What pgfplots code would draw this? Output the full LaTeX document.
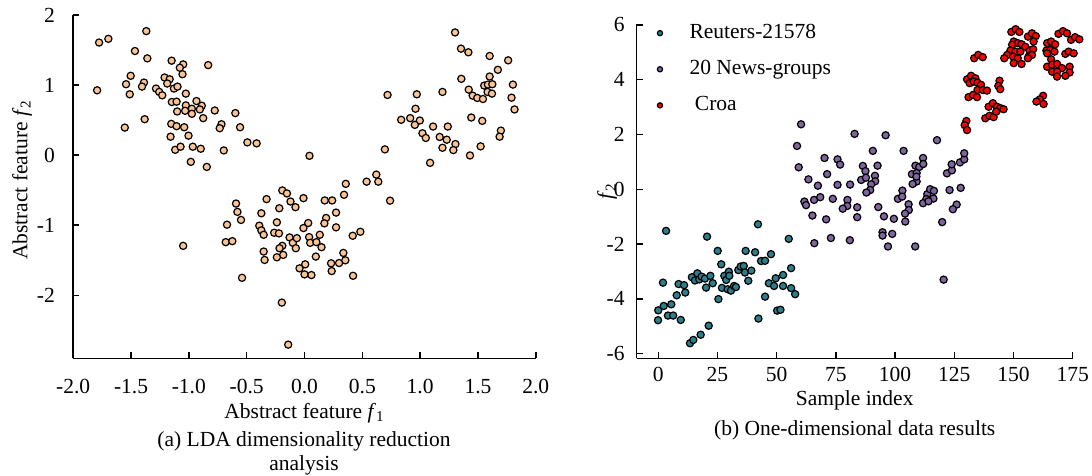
\documentclass[border=0pt]{standalone}
\usepackage{fontspec}
\setmainfont{Liberation Serif}
\usepackage{pgfplots}
\pgfplotsset{compat=1.18}
\definecolor{peach}{RGB}{250,196,148}
\definecolor{tealc}{RGB}{42,127,142}
\definecolor{purplec}{RGB}{128,100,160}
\definecolor{redc}{RGB}{255,0,0}
\begin{document}
\fontsize{10.75}{12}\selectfont
\begin{tikzpicture}
\useasboundingbox (-36.6pt,-58.85pt) rectangle (509.4pt,179.15pt);
\pgfplotsset{common/.style={
  scale only axis, axis lines=left,
  axis line style={-, line width=0.7pt},
  every outer x axis line/.append style={-},
  every outer y axis line/.append style={-},
  tick align=inside, major tick length=3pt,
  tick style={black, line width=0.7pt},
  /pgf/number format/assume math mode=true,
  every tick label/.append style={font=\fontsize{10.75}{12}\selectfont},
  label style={font=\fontsize{10.75}{12}\selectfont},
  clip=false,
}}
% ---------------- (a) ----------------
\begin{axis}[common, at={(0pt,0pt)}, anchor=south west,
  width=231.3pt, height=171.65pt,
  xmin=-2, xmax=2, ymin=-2.9, ymax=2,
  xtick={-2,-1.5,-1,-0.5,0,0.5,1,1.5,2},
  xticklabel style={/pgf/number format/.cd, fixed, fixed zerofill, precision=1, /tikz/.cd, anchor=base, yshift=-17.6pt},
  ytick={-2,-1,0,1,2},
  yticklabel style={anchor=east, xshift=-5.4pt},
  xlabel={Abstract feature \textit{f}\textsubscript{1}},
  xlabel style={at={(axis description cs:0.5,0)}, anchor=base, yshift=-30.1pt},
  ylabel={Abstract feature \textit{f}\textsubscript{2}},
  ylabel style={at={(axis description cs:-0.1107,0.52)}, anchor=center},
]
\addplot[only marks, mark=*, mark size=1.8pt, mark options={fill=peach, draw=black, line width=0.6pt}] table {
x y
-1.776 1.607
-1.696 1.66
-1.368 1.77
-1.466 1.486
-1.359 1.381
-1.149 1.348
-1.049 1.295
-1.078 1.247
-1.055 1.155
-0.833 1.285
-1.503 1.132
-1.543 1.012
-1.388 1.036
-1.405 0.978
-1.21 1.108
-1.166 1.083
-1.187 1.022
-1.129 0.95
-1.098 0.978
-1.793 0.925
-1.511 0.868
-1.284 0.95
-1.256 0.902
-1.23 0.854
-1.026 0.878
-1.147 0.758
-1.106 0.763
-0.934 0.772
-1.026 0.71
-0.888 0.705
-1.101 0.623
-1.032 0.633
-0.974 0.662
-0.974 0.59
-0.905 0.652
-0.876 0.528
-0.776 0.637
-0.598 0.6
-1.382 0.513
-1.554 0.393
-1.152 0.446
-1.106 0.413
-1.04 0.398
-1.158 0.263
-1.003 0.278
-0.718 0.441
-0.733 0.384
-0.557 0.398
-0.494 0.182
-0.414 0.168
-1.118 0.076
-1.072 0.12
-0.966 0.12
-0.897 0.091
-0.698 0.067
-0.983 -0.096
-0.845 -0.168
0.043 -0.01
-1.049 -1.295
-0.67 -0.993
-0.681 -1.242
-0.624 -1.228
-0.592 -0.691
-0.58 -0.81
-0.549 -0.925
-0.54 -1.751
-0.328 -0.628
-0.373 -0.83
-0.391 -1.007
-0.373 -1.074
-0.353 -1.137
-0.353 -1.376
-0.345 -1.496
-0.218 -0.758
-0.239 -0.959
-0.262 -1.108
-0.221 -1.117
-0.192 -0.504
-0.152 -0.547
-0.121 -0.662
-0.078 -0.743
-0.009 -0.614
-0.192 -1.295
-0.216 -1.329
-0.184 -1.424
-0.239 -1.458
-0.129 -1.175
-0.101 -1.252
-0.066 -1.185
-0.075 -1.329
-0.009 -1.041
0.032 -0.969
0.04 -1.17
0.049 -1.252
0.103 -1.242
0.132 -1.137
0.147 -1.314
0.098 -1.448
-0.043 -1.616
0.006 -1.559
0.0 -1.702
0.06 -1.712
0.175 -0.647
0.239 -0.647
0.187 -0.897
0.172 -0.974
0.273 -0.82
0.273 -1.031
0.23 -1.544
0.235 -1.655
0.299 -1.54
0.353 -1.501
0.336 -1.396
0.342 -0.566
0.357 -0.41
0.417 -1.151
0.483 -1.094
0.42 -1.722
-0.196 -2.105
-0.141 -2.705
0.537 -0.379
0.621 -0.278
0.638 -0.379
0.74 -0.65
1.302 1.751
1.353 1.52
1.417 1.468
1.601 1.415
1.761 1.353
1.672 1.218
1.356 1.089
1.601 1.122
1.802 1.007
1.42 0.935
1.554 0.993
1.586 1.007
1.624 1.012
1.583 0.902
1.621 0.878
1.454 0.849
1.494 0.816
1.543 0.801
1.79 0.82
1.816 0.652
1.193 0.902
0.971 0.868
0.718 0.859
0.96 0.662
0.836 0.504
0.914 0.528
0.997 0.494
0.954 0.432
1.112 0.408
1.239 0.408
1.442 0.537
1.537 0.489
1.02 0.312
1.049 0.245
1.169 0.259
1.23 0.22
1.305 0.158
1.193 0.105
1.287 0.072
1.431 -0.005
1.523 0.125
1.698 0.35
1.687 0.263
1.086 -0.11
0.695 0.082
};
\end{axis}
\node[anchor=base, font=\fontsize{10.75}{12}\selectfont] at (115.4pt,-43.85pt) {(a) LDA dimensionality reduction};
\node[anchor=base, font=\fontsize{10.75}{12}\selectfont] at (115.4pt,-55.85pt) {analysis};
% ---------------- (b) ----------------
\begin{axis}[common, at={(281.75pt,0pt)}, anchor=south west,
  width=218pt, height=167.15pt,
  xmin=-9.1, xmax=175, ymin=-6.17, ymax=6.03,
  xtick={0,25,50,75,100,125,150,175},
  xticklabel style={anchor=base, yshift=-11.7pt},
  ytick={-6,-4,-2,0,2,4,6},
  yticklabel style={anchor=east, xshift=-2.25pt},
  xlabel={Sample index},
  xlabel style={at={(axis description cs:0.5,0)}, anchor=base, yshift=-23.6pt},
  ylabel={\textit{f}\textsubscript{2}},
  ylabel style={at={(axis description cs:-0.068,0.5)}, anchor=center},
  legend style={draw=none, fill=none, at={(axis description cs:0.0465,1.012)}, anchor=north west,
    row sep=5.3pt, column sep=11.5pt, font=\fontsize{10.75}{12}\selectfont, inner sep=0pt},
  legend cell align=left,
  legend image code/.code={\draw[#1, mark size=1.3pt, line width=0.45pt] plot coordinates {(0pt,0pt)};},
]
\addplot[only marks, mark=*, mark size=1.8pt, mark options={fill=tealc, draw=black, line width=0.6pt}] table {
x y
-0.1 -4.78
0 -4.42
2.3 -4.26
5.5 -4.2
4.1 -4.61
6.3 -4.61
9.5 -4.77
3.3 -1.52
2.0 -3.41
7.8 -3.87
8.6 -3.46
10.9 -3.5
11.4 -3.77
13.4 -5.62
14.8 -5.5
17.9 -5.31
21.3 -4.98
14.2 -3.21
15.5 -3.33
16.5 -3.07
17.3 -3.29
18.3 -3.19
19.7 -3.26
20.2 -3.59
20.6 -1.73
22.0 -3.16
23.0 -3.43
25.1 -2.25
25.4 -4.01
26.6 -2.74
26.9 -3.6
27.9 -3.16
28.7 -3.31
29.3 -3.65
29.8 -3.01
30.0 -3.16
30.7 -3.7
32.0 -3.53
32.8 -3.57
33.8 -2.95
34.8 -2.82
36.1 -2.8
36.9 -2.25
36.6 -3.04
38.0 -3.34
39.3 -2.97
40.9 -2.3
42.1 -1.28
43.4 -2.62
45.1 -2.61
47.6 -2.37
42.3 -4.72
45.1 -3.92
46.7 -3.43
48.9 -3.53
49.6 -3.25
50.2 -4.43
51.6 -4.4
52.7 -3.13
52.7 -3.53
55.1 -1.81
56.1 -2.88
56.1 -3.61
57.8 -3.83
};
\addlegendentry{Reuters-21578}
\addplot[only marks, mark=*, mark size=1.8pt, mark options={fill=purplec, draw=black, line width=0.6pt}] table {
x y
60.3 2.37
58.6 1.58
59.3 0.8
63.4 0.36
67.4 0.13
61.7 -0.45
62.4 -0.58
65.8 -0.39
65.1 -0.96
65.9 -1.97
68.4 -0.29
82.9 2.02
96.0 1.97
117.7 1.79
70.2 1.14
75.7 1.09
76.8 0.9
90.6 1.4
103.6 1.4
71.3 0.55
75.7 0.16
81.0 0.17
86.4 0.85
87.5 0.66
85.7 0.34
87.7 0.42
91.5 0.49
92.6 0.86
91.6 0.29
89.9 0.18
89.5 -0.03
87.9 -0.12
73.7 -0.35
79.9 -0.39
79.8 -0.61
77.9 -0.71
84.0 -0.66
84.0 -1.02
92.9 -0.65
95.3 -0.99
99.5 -1.08
70.9 -1.1
72.9 -1.78
80.9 -1.86
94.7 -1.57
94.7 -1.69
98.8 -1.63
97.0 -2.09
108.5 -2.09
120.5 -3.30
103.1 -0.05
101.2 -0.35
103.0 -0.27
105.7 -0.55
105.8 -0.76
104.2 -0.89
104.3 -1.18
107.1 0.55
108.6 0.86
110.2 0.81
111.8 1.14
111.9 0.92
109.1 0.59
109.1 0.28
107.4 0.19
113.6 -0.18
114.8 0.0
116.4 -0.06
113.2 -0.36
116.2 -0.34
111.8 -0.51
114.1 -0.44
119.9 -1.2
123.0 -0.03
127.7 0.05
121.9 0.58
124.0 0.69
123.9 0.91
127.4 0.98
129.2 1.09
129.2 1.31
126.0 -0.56
124.4 -0.73
109.0 0.46
};
\addlegendentry{20 News-groups}
\addplot[only marks, mark=*, mark size=1.8pt, mark options={fill=redc, draw=black, line width=0.6pt}] table {
x y
149.1 5.74
150.9 5.84
152.5 5.74
156.1 5.57
157.8 5.69
159.4 5.59
158.5 5.39
150.1 5.39
151.8 5.33
153.4 5.29
149.4 5.27
148.7 5.06
150.8 5.02
152.9 5.02
155.0 5.2
156.8 5.06
158.3 5.11
147.3 4.9
146.1 4.78
149.8 4.84
151.8 4.78
156.4 4.84
157.8 4.9
150.1 4.6
153.4 4.57
156.1 4.78
169.0 5.67
170.9 5.77
172.6 5.69
174.3 5.45
176.0 5.55
177.8 5.47
164.2 5.33
165.9 5.39
167.6 5.29
163.9 5.06
165.6 5.08
167.3 5.02
164.2 4.96
165.9 4.74
171.9 4.94
173.3 5.02
175.4 4.96
164.2 4.47
166.3 4.54
168.4 4.57
170.5 4.42
173.7 4.47
166.3 4.29
168.4 4.29
173.7 4.26
168.4 4.11
171.9 4.14
133.4 4.78
135.1 4.9
137.0 4.82
130.4 4.01
132.1 4.14
133.9 4.05
131.5 3.87
133.2 3.93
134.8 3.89
136.3 3.81
134.8 3.62
137.1 3.62
138.8 3.6
131.0 3.36
132.9 3.44
134.6 3.36
144.1 3.96
143.6 3.77
144.4 3.65
139.5 3.01
141.3 3.14
143.0 3.01
144.4 2.96
145.8 2.92
138.1 2.59
139.9 2.68
141.6 2.63
142.7 2.83
162.5 3.41
161.1 3.28
159.7 3.2
162.7 3.11
130.1 2.49
129.4 2.34
130.4 2.16
};
\addlegendentry{\ Croa}
\end{axis}
\node[anchor=base, font=\fontsize{10.75}{12}\selectfont] at (390.75pt,-38.4pt) {(b) One-dimensional data results};
\end{tikzpicture}
\end{document}
